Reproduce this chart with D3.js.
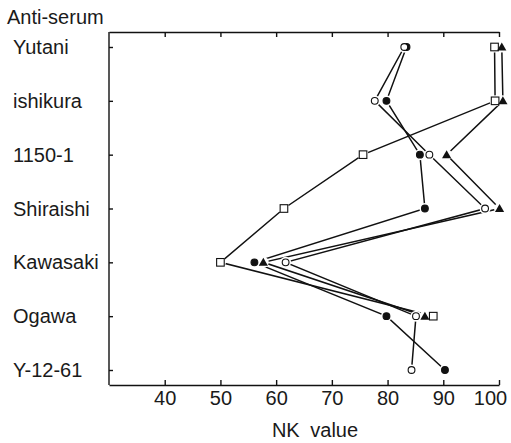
<!DOCTYPE html>
<html>
<head>
<meta charset="utf-8">
<script src="https://cdn.jsdelivr.net/npm/d3@7"></script>
<style>
  body { margin: 0; background: #fff; }
  svg text { font-family: "Liberation Sans", Arial, sans-serif; fill: #1a1a1a; }
  .axis path, .axis line { stroke: #111; stroke-width: 1.4; }
</style>
</head>
<body>
<svg id="chart" width="511" height="443"></svg>
<script>
// anti-serum rows, top to bottom
var categories = ["Yutani", "ishikura", "1150-1", "Shiraishi", "Kawasaki", "Ogawa", "Y-12-61"];
// NK values for each marker series (null = no point)
var openCircle   = [83.0, 77.7, 87.5, 97.5, 61.7, 85.1, 84.3];
var filledCircle = [83.4, 79.8, 85.8, 86.7, 56.1, 79.8, 90.3];
var squareVals   = [99.2, 99.3, 75.6, 61.4, 50.0, 88.2, null];
var triangleVals = [100.5, 100.7, 90.6, 100.1, 57.7, 86.7, null];
var xTicks = [40, 50, 60, 70, 80, 90, 100];

var svg = d3.select("#chart");

var frame = {left: 109, right: 499, top: 32, bottom: 385};

var x = d3.scaleLinear().domain([30, 100]).range([frame.left, frame.right]);
var y = d3.scalePoint().domain(categories).range([47, 370]);

// left frame line
svg.append("line").attr("x1", frame.left).attr("x2", frame.left)
  .attr("y1", frame.top).attr("y2", frame.bottom)
  .attr("stroke", "#111").attr("stroke-width", 1.4);

var top = svg.append("g").attr("class", "axis")
  .attr("transform", "translate(0," + frame.top + ")")
  .call(d3.axisTop(x).tickValues(xTicks).tickSizeInner(-5).tickSizeOuter(0).tickFormat(""));

var bottom = svg.append("g").attr("class", "axis")
  .attr("transform", "translate(0," + frame.bottom + ")")
  .call(d3.axisBottom(x).tickValues(xTicks).tickSizeInner(-5).tickSizeOuter(0).tickPadding(6));
bottom.selectAll("text").attr("font-size", 20).style("font-family", "Liberation Sans, Arial, sans-serif");
bottom.selectAll(".tick").filter(function(d) { return d === 100; })
  .select("text").attr("dx", -9);

var left = svg.append("g").attr("class", "axis")
  .attr("transform", "translate(" + frame.left + ",0)")
  .call(d3.axisLeft(y).tickSizeInner(-4).tickSizeOuter(0).tickFormat(""));
left.select(".domain").remove();

// category labels, left aligned
svg.selectAll(".cat")
  .data(categories)
  .enter().append("text")
  .attr("class", "cat")
  .attr("x", 13)
  .attr("y", function(d) { return y(d) + 7; })
  .attr("font-size", 20)
  .text(function(d) { return d; });

svg.append("text").attr("x", 7).attr("y", 24).attr("font-size", 20).text("Anti-serum");

svg.append("text").attr("x", 315).attr("y", 437).attr("font-size", 20)
  .attr("text-anchor", "middle").style("word-spacing", "5px").text("NK value");

// drawing order: filled under open circles
var series = [
  {vals: filledCircle, shape: "filledCircle"},
  {vals: openCircle, shape: "openCircle"},
  {vals: squareVals, shape: "square"},
  {vals: triangleVals, shape: "triangle"}
];

var line = d3.line()
  .defined(function(d) { return d.v != null; })
  .x(function(d) { return x(d.v); })
  .y(function(d) { return y(d.c); });

function points(s) {
  return s.vals.map(function(v, i) { return {v: v, c: categories[i]}; });
}

series.forEach(function(s) {
  svg.append("path").datum(points(s))
    .attr("d", line)
    .attr("fill", "none")
    .attr("stroke", "#111")
    .attr("stroke-width", 1.5);
});

// white halos so lines stop short of markers
series.forEach(function(s) {
  var pts = points(s).filter(function(d) { return d.v != null; });
  svg.selectAll(null).data(pts).enter().append("circle")
    .attr("cx", function(d) { return x(d.v); })
    .attr("cy", function(d) { return y(d.c); })
    .attr("r", 5.5)
    .attr("fill", "#fff");
});

series.forEach(function(s) {
  var pts = points(s).filter(function(d) { return d.v != null; });
  var g = svg.append("g");
  if (s.shape === "openCircle" || s.shape === "filledCircle") {
    g.selectAll("circle").data(pts).enter().append("circle")
      .attr("cx", function(d) { return x(d.v); })
      .attr("cy", function(d) { return y(d.c); })
      .attr("r", 3.4)
      .attr("fill", s.shape === "filledCircle" ? "#111" : "#fff")
      .attr("stroke", "#111")
      .attr("stroke-width", 1.1);
  } else if (s.shape === "square") {
    g.selectAll("rect").data(pts).enter().append("rect")
      .attr("x", function(d) { return x(d.v) - 3.8; })
      .attr("y", function(d) { return y(d.c) - 3.8; })
      .attr("width", 7.6)
      .attr("height", 7.6)
      .attr("fill", "#fff")
      .attr("stroke", "#111")
      .attr("stroke-width", 1.1);
  } else {
    g.selectAll("path").data(pts).enter().append("path")
      .attr("transform", function(d) { return "translate(" + x(d.v) + "," + y(d.c) + ")"; })
      .attr("d", "M0,-4.5L4.6,3.5L-4.6,3.5Z")
      .attr("fill", "#111");
  }
});
</script>
</body>
</html>
